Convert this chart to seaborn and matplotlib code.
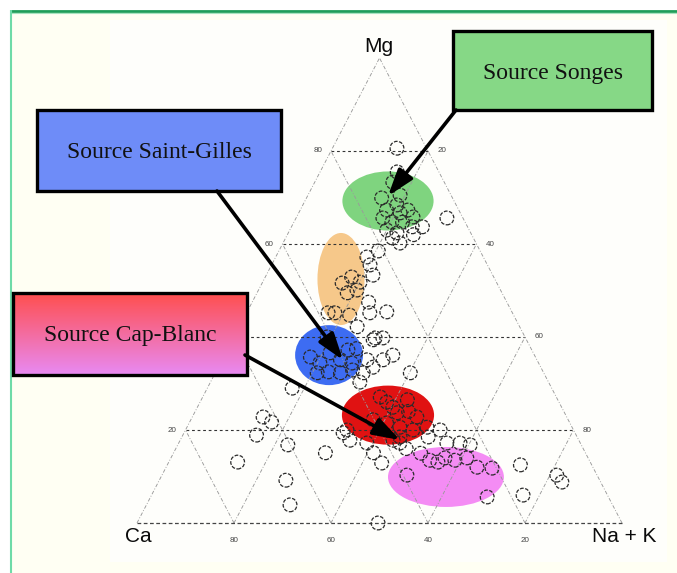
import numpy as np
import pandas as pd
import matplotlib
matplotlib.use("Agg")
import matplotlib.pyplot as plt
import seaborn as sns
from matplotlib.patches import Ellipse, Rectangle

sns.set_theme(style="white")
plt.rcParams["font.family"] = ["Liberation Sans", "DejaVu Sans"]

# Water samples: Mg and Na+K in % of cations (Ca is the remainder)
mg = [80.6, 75.5, 73.3, 69.9, 67.3, 68.4, 66.7, 67.3, 65.8, 65.6,
      64.7, 64.7, 63.7, 63.7, 63.0, 62.4, 61.3, 60.2, 65.6,
      57.2, 55.5, 53.3, 51.6, 52.9, 49.5, 50.1, 51.8, 45.2, 45.2,
      44.7, 45.2, 45.4, 42.2, 39.8, 39.8,
      35.7, 34.4, 36.6, 35.1, 37.2, 34.4, 32.3, 32.5, 32.3, 32.9,
      40.0, 39.4, 35.1, 33.5, 35.1, 32.3, 30.3, 36.1, 32.3,
      27.1, 24.9, 26.5, 23.7, 22.8, 22.2, 21.5, 20.6, 20.0, 20.6,
      20.0, 19.4, 17.8, 17.2, 15.1, 12.9, 17.8, 18.5,
      17.2, 17.2, 16.8, 13.5, 13.1, 14.0, 13.5, 14.0, 12.0, 11.8,
      10.3, 5.6, 12.5, 6.0, 10.3, 8.8, 17.2, 18.5,
      29.0, 22.8, 21.7, 18.9, 16.8, 13.1, 9.2, 15.1, 3.9, 20.0, 0.0,
      70.5, 62.0, 58.5, 47.5, 37.5, 26.0, 24.0, 16.0, 15.0]
nak = [13.3, 15.9, 16.1, 15.5, 17.8, 19.4, 20.9, 22.2, 24.0, 17.9,
       20.2, 22.4, 24.9, 27.0, 20.0, 22.4, 22.0, 24.1, 31.1,
       18.8, 20.3, 22.0, 16.5, 17.8, 18.6, 20.3, 20.1, 16.8, 18.2,
       21.5, 25.4, 28.8, 24.3, 29.2, 30.8,
       17.9, 20.5, 21.5, 24.4, 24.9, 27.1, 21.0, 23.2, 25.8, 28.0,
       19.2, 29.0, 29.9, 31.9, 33.2, 30.5, 30.8, 34.7, 40.2,
       36.6, 40.3, 42.5, 41.8, 46.3, 37.6, 40.7, 43.9, 46.9, 49.5,
       52.5, 32.8, 35.0, 38.8, 41.2, 44.0, 43.9, 45.0,
       55.3, 58.0, 60.3, 53.6, 55.5, 56.5, 58.8, 61.0, 64.1, 67.3,
       50.5, 69.4, 72.8, 76.6, 81.4, 83.2, 45.6, 50.8,
       17.5, 14.6, 16.9, 15.2, 22.7, 14.2, 26.1, 31.3, 29.6, 33.3, 49.7,
       19.0, 26.0, 20.5, 24.0, 26.5, 38.5, 44.0, 47.5, 51.0]
ca = [round(100 - a - b, 1) for a, b in zip(mg, nak)]

# Grouping zones (centre x, centre Mg, width, height in diagram units) and colours
zone_names = ["Songes", "Orange", "Saint-Gilles", "Cap-Blanc", "Magenta"]
zone_cx = [51.75, 42.06, 39.6, 51.75, 63.7]
zone_cy = [69.25, 52.47, 36.1, 23.2, 9.9]
zone_w = [18.8, 9.7, 14.0, 19.0, 23.9]
zone_h = [12.7, 19.8, 12.9, 12.7, 12.9]
zone_colors = ["#7fd47f", "#f6c88a", "#3d6cf2", "#e01212", "#f48cf4"]

grid_levels = [20, 40, 60, 80]

W, H = 677, 573
fig = plt.figure(figsize=(W / 100, H / 100), dpi=100)
fig.patch.set_facecolor("white")

# Background layer in pixel units
bg = fig.add_axes([0, 0, 1, 1], zorder=0)
bg.set_xlim(0, W)
bg.set_ylim(H, 0)
bg.axis("off")
bg.add_patch(Rectangle((10, 10), W - 10, H - 10, fc="#fffff3", ec="none"))
bg.add_patch(Rectangle((110, 20), 557, 542, fc="#fefefb", ec="none"))
bg.plot([10, W], [10.5, 10.5], color="#1f9e5a", lw=2.0, solid_capstyle="butt")
bg.plot([10, W], [12.5, 12.5], color="#a8e4c0", lw=0.8, solid_capstyle="butt")
bg.plot([11, 11], [10, H], color="#6edba8", lw=1.5, solid_capstyle="butt")

# Ternary diagram axes: x = NaK + Mg/2, y = Mg
ax = fig.add_axes([137 / W, 50 / H, 485 / W, 465 / H], zorder=1)
ax.set_xlim(0, 100)
ax.set_ylim(0, 100)
ax.axis("off")
ax.patch.set_alpha(0)

for cx, cy, w, h, c in zip(zone_cx, zone_cy, zone_w, zone_h, zone_colors):
    ax.add_patch(Ellipse((cx, cy), w, h, fc=c, ec="none", zorder=1))

grid_kw = dict(color="#9a9a9a", lw=0.65, ls=(0, (4, 2, 1, 2)), zorder=2, clip_on=False)
for k in grid_levels:
    ax.plot([k / 2, 100 - k / 2], [k, k], color="#333333", lw=0.8,
            ls=(0, (2.5, 2.5)), zorder=2, clip_on=False)
    ax.plot([k, k + (100 - k) / 2], [0, 100 - k], **grid_kw)
    ax.plot([100 - k, (100 - k) / 2], [0, 100 - k], **grid_kw)
ax.plot([0, 50], [0, 100], **grid_kw)
ax.plot([100, 50], [0, 100], **grid_kw)
ax.plot([0, 100], [0, 0], color="#444444", lw=0.9, ls=(0, (3, 2)), zorder=2, clip_on=False)

df = pd.DataFrame({"Mg": mg, "NaK": nak, "Ca": ca})
df["x"] = df["NaK"] + df["Mg"] / 2
df["y"] = df["Mg"]
sns.scatterplot(data=df, x="x", y="y", ax=ax, s=98, facecolor="none",
                edgecolor="#2a2a2a", linewidth=0.9, linestyle=(0, (3, 1.2)),
                legend=False, zorder=3, clip_on=False)
ax.set_xlim(0, 100)
ax.set_ylim(0, 100)

# Axis scale labels
tick_kw = dict(fontsize=5.8, color="#444444", ha="center", va="center",
               textcoords="offset points", annotation_clip=False)
for k in grid_levels:
    ax.annotate(str(k), (k / 2, k), xytext=(-9.5, 0), **tick_kw)
    ax.annotate(str(100 - k), (100 - k / 2, k), xytext=(10, 0), **tick_kw)
    ax.annotate(str(100 - k), (k, 0), xytext=(0, -12.5), **tick_kw)

# Overlay layer: vertex labels, source boxes and arrows
ov = fig.add_axes([0, 0, 1, 1], zorder=2)
ov.axis("off")
ov.patch.set_alpha(0)

ov.text(379, 46, "Mg", fontsize=15, ha="center", va="center", color="#0a0a0a")
ov.text(138, 536, "Ca", fontsize=15, ha="center", va="center", color="#0a0a0a")
ov.text(624, 536, "Na + K", fontsize=15, ha="center", va="center", color="#0a0a0a")

serif = ["Liberation Serif", "DejaVu Serif"]
ov.add_patch(Rectangle((453, 31), 199, 79, fc="#86d886", ec="black", lw=2.4, zorder=4))
ov.text(553, 73, "Source Songes", family=serif, fontsize=17, ha="center",
        va="center", color="#111111", zorder=5)

ov.add_patch(Rectangle((37, 110), 244, 81, fc="#6e8cf8", ec="black", lw=2.4, zorder=4))
ov.text(159, 152, "Source Saint-Gilles", family=serif, fontsize=17,
        ha="center", va="center", color="#111111", zorder=5)

top_c = np.array([1.0, 0.31, 0.31])
bot_c = np.array([0.91, 0.54, 0.95])
t = np.linspace(0, 1, 64)[:, None, None]
grad = top_c * (1 - t) + bot_c * t
ov.imshow(grad, extent=(13, 247, 375, 293), aspect="auto", zorder=4, interpolation="bilinear")
ov.add_patch(Rectangle((13, 293), 234, 82, fc="none", ec="black", lw=2.4, zorder=5))
ov.text(130, 335, "Source Cap-Blanc", family=serif, fontsize=17,
        ha="center", va="center", color="#111111", zorder=6)

arrow_kw = dict(arrowstyle="-|>,head_length=0.9,head_width=0.3", color="black",
                lw=2.6, mutation_scale=18, shrinkA=0, shrinkB=0)
ov.annotate("", xy=(388, 196), xytext=(456, 110), arrowprops=arrow_kw, zorder=6)
ov.annotate("", xy=(343, 360), xytext=(217, 191), arrowprops=arrow_kw, zorder=6)
ov.annotate("", xy=(400, 440), xytext=(245, 355), arrowprops=arrow_kw, zorder=6)

ov.set_xlim(0, W)
ov.set_ylim(H, 0)

fig.savefig("out.png", dpi=100)
